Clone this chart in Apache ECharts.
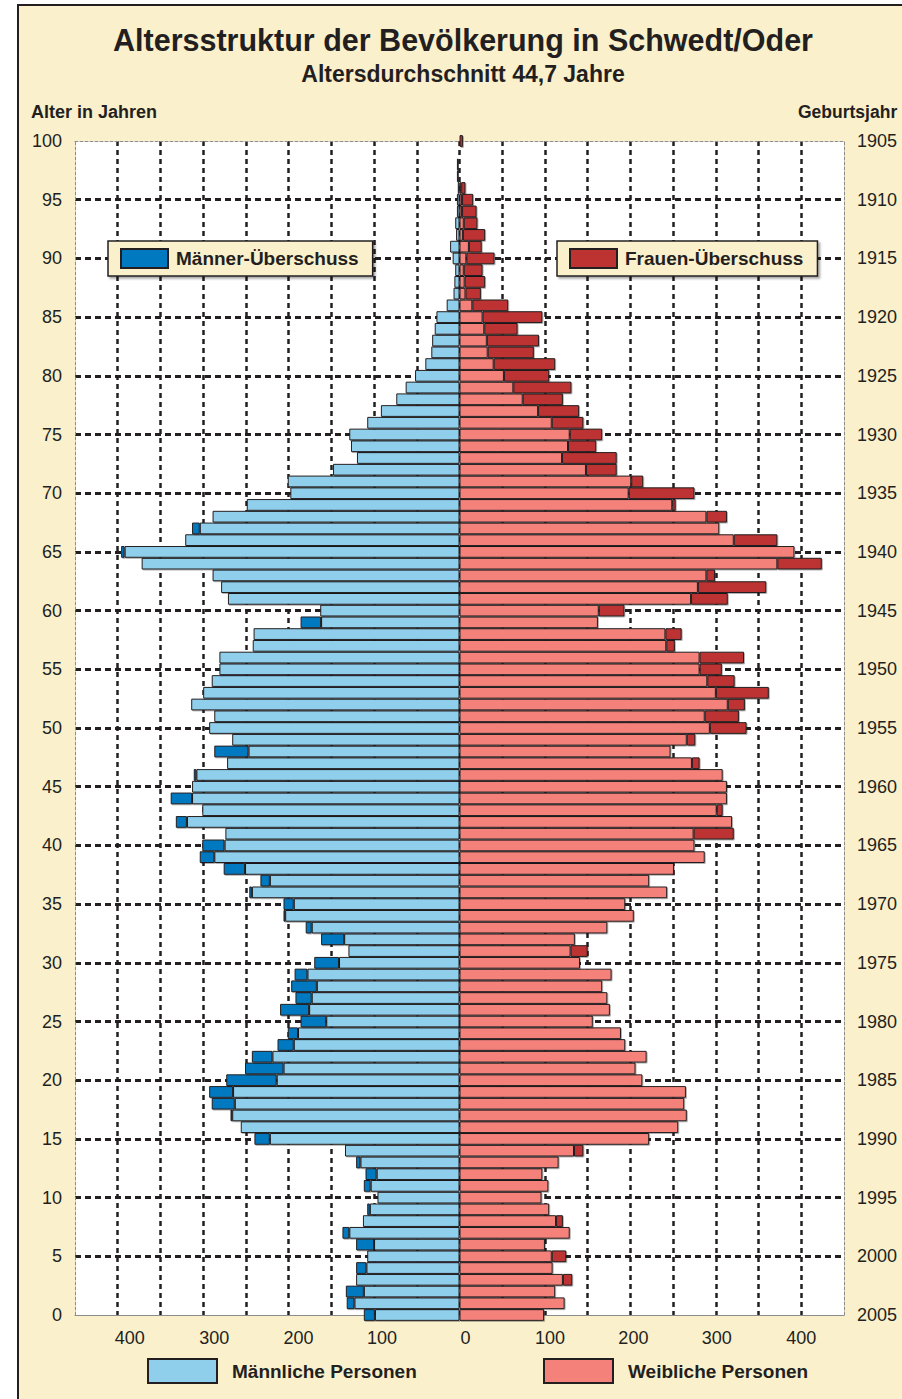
<!DOCTYPE html>
<html>
<head>
<meta charset="utf-8">
<title>Altersstruktur Schwedt/Oder</title>
<script src="https://cdn.jsdelivr.net/npm/echarts@6/dist/echarts.min.js"></script>
<style>
  html, body { margin: 0; padding: 0; background: #fff; width: 902px; height: 1399px; overflow: hidden; }
  #frame { position: absolute; left: 17px; top: 4px; width: 920px; height: 1420px; background: #faf0cc; border: 2px solid #231f20; box-sizing: border-box; }
  #chart { position: absolute; left: 0; top: 0; width: 902px; height: 1399px; }
</style>
</head>
<body>
<div id="frame"></div>
<div id="chart"></div>
<script>
// Alter 0..100, Geburtsjahr = 2005 - Alter
const ages = Array.from({length: 101}, (_, i) => String(i));
const years = ages.map(a => String(2005 - Number(a)));

// Einwohner je Altersjahr (Index = Alter)
const male = [
  112, 132, 133, 121, 121, 108, 121, 137, 113, 108,
  96, 112, 110, 121, 134, 240, 256, 268, 290, 293,
  273, 251, 243, 213, 201, 186, 210, 192, 197, 193,
  170, 130, 162, 180, 206, 206, 246, 233, 276, 304,
  301, 274, 332, 301, 338, 313, 311, 272, 287, 266,
  293, 287, 314, 300, 290, 281, 281, 242, 241, 186,
  163, 271, 279, 289, 372, 396, 321, 313, 289, 249,
  198, 201, 148, 120, 127, 129, 108, 92, 74, 63,
  52, 40, 33, 32, 29, 27, 15, 7, 6, 5,
  8, 11, 4, 5, 3, 3, 2, 3, 3, 2,
  0
];
const female = [
  99, 123, 112, 132, 109, 125, 100, 129, 121, 105,
  97, 104, 97, 116, 145, 222, 256, 266, 263, 265,
  214, 206, 219, 194, 189, 156, 176, 173, 167, 178,
  141, 150, 135, 173, 204, 194, 243, 222, 251, 287,
  275, 321, 319, 308, 313, 313, 308, 281, 247, 276,
  336, 327, 334, 362, 322, 307, 333, 252, 260, 162,
  193, 314, 359, 299, 424, 392, 372, 304, 313, 253,
  275, 215, 184, 184, 160, 167, 145, 140, 121, 131,
  105, 112, 87, 93, 68, 97, 57, 25, 30, 27,
  41, 26, 30, 21, 20, 16, 7, 1, 1, 1,
  4
];

// Beschriftung der x-Achse (Wert -> Text) und ihr Versatz in der Vorlage
const xTicks = [-400, -300, -200, -100, 0, 100, 200, 300, 400];
const xTickShift = [12, 11, 10, 8, 6, 5, 3, 1, 0];

const FONT = '"Liberation Sans", Arial, Helvetica, sans-serif';
const TXT = '#231f20';
const C_M = '#8fcfec', C_MX = '#0079c1', C_F = '#f4817a', C_FX = '#bd3331';

// gemeinsamer Teil + Überschuss
const base = male.map((m, i) => Math.min(m, female[i]));
const mLight = base.map(v => -v);
const fLight = base.slice();
const mExtra = male.map((m, i) => m > female[i] ? -(m - female[i]) : '-');
const fExtra = female.map((f, i) => f > male[i] ? f - male[i] : '-');

const xRich = {};
xTickShift.forEach((s, i) => {
  xRich['t' + i] = { fontSize: 18, color: TXT, fontFamily: FONT, padding: [0, 0, 0, 2 * s] };
});

function barSeries(name, data, color) {
  return {
    name: name,
    type: 'bar',
    stack: 'pyr',
    data: data,
    barWidth: '100%',
    clip: false,
    itemStyle: {
      color: color,
      borderColor: TXT,
      borderWidth: 1,
      shadowColor: 'rgba(0,0,0,0.3)',
      shadowBlur: 1.5,
      shadowOffsetX: 1,
      shadowOffsetY: 1
    },
    emphasis: { disabled: true }
  };
}

function boxLegend(name, left) {
  return {
    data: [{ name: name, icon: 'rect' }],
    left: left,
    top: 241,
    orient: 'horizontal',
    selectedMode: false,
    backgroundColor: '#faf0cc',
    borderColor: TXT,
    borderWidth: 1.5,
    padding: [7, 14, 7, 12],
    shadowColor: 'rgba(0,0,0,0.35)',
    shadowBlur: 2,
    shadowOffsetX: 2,
    shadowOffsetY: 2,
    itemWidth: 47,
    itemHeight: 19,
    textStyle: { fontFamily: FONT, fontWeight: 'bold', fontSize: 19, color: TXT, padding: [0, 0, 0, 3] }
  };
}

function plainLegend(name, left) {
  return {
    data: [{ name: name, icon: 'rect' }],
    left: left,
    top: 1358,
    selectedMode: false,
    padding: 0,
    itemWidth: 69,
    itemHeight: 24,
    textStyle: { fontFamily: FONT, fontWeight: 'bold', fontSize: 19, color: TXT, padding: [0, 0, 0, 10] }
  };
}

const chart = echarts.init(document.getElementById('chart'), null, { renderer: 'svg' });

const option = {
  backgroundColor: 'transparent',
  animation: false,
  textStyle: { fontFamily: FONT },
  grid: {
    left: 75, right: 58, top: 141, bottom: 84,
    show: true, backgroundColor: '#ffffff', borderWidth: 0
  },
  legend: [
    boxLegend('Männer-Überschuss', 108),
    boxLegend('Frauen-Überschuss', 557),
    plainLegend('Männliche Personen', 147),
    plainLegend('Weibliche Personen', 543)
  ],
  xAxis: [
    {
      type: 'value',
      min: -450,
      max: 450,
      interval: 50,
      axisLine: { show: true, lineStyle: { color: '#8c8c8c', width: 1 } },
      axisTick: { show: false },
      axisLabel: {
        margin: 14,
        fontSize: 18,
        color: TXT,
        fontFamily: FONT,
        formatter: v => {
          const i = xTicks.indexOf(v);
          return i < 0 ? '' : '{t' + i + '|' + Math.abs(v) + '}';
        },
        rich: xRich
      },
      splitLine: {
        show: true,
        showMinLine: false,
        showMaxLine: false,
        lineStyle: { color: TXT, width: 2.5, type: [5, 4] }
      }
    },
    {
      type: 'value',
      min: -450,
      max: 450,
      position: 'top',
      axisLine: { show: true, lineStyle: { color: '#8c8c8c', width: 1, type: [3, 2] } },
      axisTick: { show: false },
      axisLabel: { show: false },
      splitLine: { show: false }
    }
  ],
  yAxis: [
    {
      type: 'category',
      data: ages,
      boundaryGap: false,
      position: 'left',
      axisLine: { show: true, onZero: false, lineStyle: { color: '#8c8c8c', width: 1, type: [3, 2] } },
      axisTick: { show: false },
      axisLabel: { interval: 4, margin: 13, fontSize: 18, color: TXT, fontFamily: FONT },
      splitLine: {
        show: true,
        interval: (idx) => idx % 5 === 0 && idx !== 0 && idx !== 100,
        lineStyle: { color: TXT, width: 3, type: [6, 4] }
      }
    },
    {
      type: 'category',
      data: years,
      boundaryGap: false,
      position: 'right',
      axisLine: { show: true, onZero: false, lineStyle: { color: '#8c8c8c', width: 1, type: [3, 2] } },
      axisTick: { show: false },
      axisLabel: { interval: 4, margin: 13, fontSize: 18, color: TXT, fontFamily: FONT },
      splitLine: { show: false }
    }
  ],
  series: [
    barSeries('Männliche Personen', mLight, C_M),
    barSeries('Weibliche Personen', fLight, C_F),
    barSeries('Männer-Überschuss', mExtra, C_MX),
    barSeries('Frauen-Überschuss', fExtra, C_FX)
  ],
  graphic: [
    {
      type: 'text', x: 463, y: 40, silent: true,
      style: { text: 'Altersstruktur der Bevölkerung in Schwedt/Oder', font: 'bold 30.5px ' + FONT, fill: TXT,
               align: 'center', verticalAlign: 'middle', textAlign: 'center', textVerticalAlign: 'middle' }
    },
    {
      type: 'text', x: 463, y: 74, silent: true,
      style: { text: 'Altersdurchschnitt 44,7 Jahre', font: 'bold 23px ' + FONT, fill: TXT,
               align: 'center', verticalAlign: 'middle', textAlign: 'center', textVerticalAlign: 'middle' }
    },
    {
      type: 'text', x: 31, y: 112, silent: true,
      style: { text: 'Alter in Jahren', font: 'bold 18px ' + FONT, fill: TXT,
               align: 'left', verticalAlign: 'middle', textAlign: 'left', textVerticalAlign: 'middle' }
    },
    {
      type: 'text', x: 798, y: 112, silent: true,
      style: { text: 'Geburtsjahr', font: 'bold 17.5px ' + FONT, fill: TXT,
               align: 'left', verticalAlign: 'middle', textAlign: 'left', textVerticalAlign: 'middle' }
    }
  ]
};

chart.setOption(option);
</script>
</body>
</html>
